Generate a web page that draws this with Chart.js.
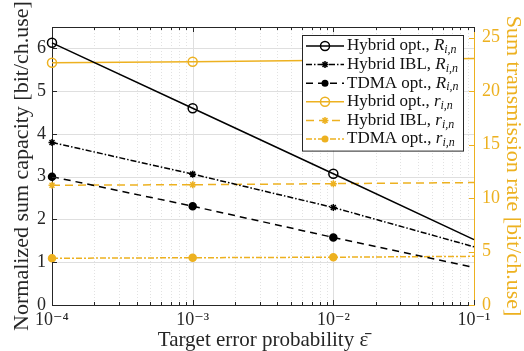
<!DOCTYPE html>
<html>
<head>
<meta charset="utf-8">
<script src="https://cdn.jsdelivr.net/npm/chart.js@4.4.0/dist/chart.umd.min.js"></script>
<style>
  html, body { margin: 0; padding: 0; background: #fff; }
  #wrap { width: 524px; height: 351px; }
</style>
</head>
<body>
<div id="wrap"><canvas id="c"></canvas></div>
<script>
// data
const errProb = [1e-4, 1e-3, 1e-2, 1e-1];
const hybridOptCap = [6.13, 4.6, 3.07, 1.53];
const hybridIblCap = [3.8, 3.06, 2.28, 1.36];
const tdmaOptCap = [3.0, 2.31, 1.58, 0.88];
const hybridOptRate = [22.65, 22.75, 22.9, 23.05];
const hybridIblRate = [11.2, 11.25, 11.35, 11.45];
const tdmaOptRate = [4.37, 4.42, 4.47, 4.55];
const capTicks = [0, 1, 2, 3, 4, 5, 6];
const rateTicks = [0, 5, 10, 15, 20, 25];

const BLACK = "#000000";
const GOLD = "#EDB120";
const AXIS = "#262626";
const FONT = "'Liberation Serif', 'DejaVu Serif', serif";

const sup = { "-": "\u207B", "0": "\u2070", "1": "\u00B9", "2": "\u00B2", "3": "\u00B3", "4": "\u2074" };
function powLabel(e) {
  return "10" + String(e).split("").map(c => sup[c]).join("");
}

// legend entries: [prefix, math symbol, colour, dash, pointStyle, filled]
const legendItems = [
  ["Hybrid opt.,", "R", BLACK, [], "circle", false],
  ["Hybrid IBL,", "R", BLACK, [6, 2, 1.5, 2], "star", false],
  ["TDMA opt.,", "R", BLACK, [7, 5], "circle", true],
  ["Hybrid opt.,", "r", GOLD, [], "circle", false],
  ["Hybrid IBL,", "r", GOLD, [8, 5], "star", false],
  ["TDMA opt.,", "r", GOLD, [6, 2, 2, 2], "circle", true]
];

function hideLast(ctx) {
  return ctx.dataIndex === errProb.length - 1 ? 0 : ctx.dataset.baseRadius;
}

function series(label, data, axis, colour, dash, style, filled, r) {
  return {
    label: label,
    data: data.map((v, k) => ({ x: errProb[k], y: v })),
    yAxisID: axis,
    borderColor: colour,
    borderWidth: 1.5,
    borderDash: dash,
    pointStyle: style,
    baseRadius: r,
    pointRadius: hideLast,
    pointBorderWidth: 1.5,
    pointBorderColor: colour,
    pointBackgroundColor: filled ? colour : "rgba(0,0,0,0)",
    tension: 0,
    clip: 8
  };
}

// grid lines and inward ticks, MATLAB style
const gridPlugin = {
  id: "gridPlugin",
  beforeDatasetsDraw(chart) {
    const { ctx, chartArea: a, scales } = chart;
    ctx.save();
    ctx.lineWidth = 1;
    for (let d = -4; d < -1; d++) {
      for (let m = 1; m < 10; m++) {
        const v = m * Math.pow(10, d);
        const x = Math.round(scales.x.getPixelForValue(v)) + 0.5;
        if (m === 1) {
          ctx.strokeStyle = "#dfdfdf";
          ctx.setLineDash([]);
        } else {
          ctx.strokeStyle = "#e2e2e2";
          ctx.setLineDash([1, 2]);
        }
        if (x <= a.left + 1) continue;
        ctx.beginPath();
        ctx.moveTo(x, a.top);
        ctx.lineTo(x, a.bottom);
        ctx.stroke();
      }
    }
    ctx.setLineDash([]);
    ctx.strokeStyle = "#dfdfdf";
    capTicks.forEach(v => {
      const y = Math.round(scales.yCap.getPixelForValue(v)) + 0.5;
      if (y >= a.bottom - 1) return;
      ctx.beginPath();
      ctx.moveTo(a.left, y);
      ctx.lineTo(a.right, y);
      ctx.stroke();
    });
    ctx.restore();
  },
  afterDatasetsDraw(chart) {
    const { ctx, chartArea: a, scales } = chart;
    ctx.save();
    ctx.lineWidth = 1;
    ctx.strokeStyle = AXIS;
    // top border
    ctx.beginPath();
    ctx.moveTo(a.left, a.top + 0.5);
    ctx.lineTo(a.right, a.top + 0.5);
    ctx.stroke();
    for (let d = -4; d <= -1; d++) {
      for (let m = 1; m < 10; m++) {
        const v = m * Math.pow(10, d);
        if (v > 0.1 + 1e-12) break;
        const x = Math.round(scales.x.getPixelForValue(v)) + 0.5;
        const len = m === 1 ? 5 : 3;
        ctx.beginPath();
        ctx.moveTo(x, a.bottom);
        ctx.lineTo(x, a.bottom - len);
        ctx.moveTo(x, a.top);
        ctx.lineTo(x, a.top + len);
        ctx.stroke();
      }
    }
    capTicks.forEach(v => {
      const y = Math.round(scales.yCap.getPixelForValue(v)) + 0.5;
      ctx.beginPath();
      ctx.moveTo(a.left, y);
      ctx.lineTo(a.left + 5, y);
      ctx.stroke();
    });
    ctx.strokeStyle = GOLD;
    rateTicks.forEach(v => {
      const y = Math.round(scales.yRate.getPixelForValue(v)) + 0.5;
      ctx.beginPath();
      ctx.moveTo(a.right, y);
      ctx.lineTo(a.right - 5, y);
      ctx.stroke();
    });
    ctx.restore();
  }
};

function drawMarker(ctx, style, filled, colour, x, y) {
  ctx.save();
  ctx.strokeStyle = colour;
  ctx.fillStyle = colour;
  ctx.lineWidth = 1.5;
  ctx.setLineDash([]);
  if (style === "circle") {
    ctx.beginPath();
    ctx.arc(x, y, filled ? 3.5 : 4.5, 0, Math.PI * 2);
    if (filled) ctx.fill(); else ctx.stroke();
  } else {
    const r = 3.5;
    ctx.beginPath();
    for (let k = 0; k < 4; k++) {
      const t = k * Math.PI / 4;
      ctx.moveTo(x - r * Math.cos(t), y - r * Math.sin(t));
      ctx.lineTo(x + r * Math.cos(t), y + r * Math.sin(t));
    }
    ctx.stroke();
  }
  ctx.restore();
}

// legend drawn by hand so the line sample carries its marker and the math is italic
const legendPlugin = {
  id: "legendPlugin",
  afterDraw(chart) {
    const { ctx, chartArea: a } = chart;
    const right = a.right - 11, top = a.top + 8, width = 161, rowH = 18.6;
    const left = right - width;
    const height = rowH * legendItems.length + 4;
    ctx.save();
    ctx.fillStyle = "#fff";
    ctx.fillRect(left, top, width, height);
    ctx.strokeStyle = AXIS;
    ctx.lineWidth = 1;
    ctx.strokeRect(left + 0.5, top + 0.5, width, height);
    legendItems.forEach((it, i) => {
      const y = top + 11 + i * rowH;
      ctx.strokeStyle = it[2];
      ctx.lineWidth = 1.5;
      ctx.setLineDash(it[3]);
      ctx.beginPath();
      ctx.moveTo(left + 4, y);
      ctx.lineTo(left + 42, y);
      ctx.stroke();
      drawMarker(ctx, it[4], it[5], it[2], left + 23, y);
      ctx.fillStyle = "#111";
      ctx.textBaseline = "middle";
      ctx.font = "17px " + FONT;
      let tx = left + 45;
      ctx.fillText(it[0] + " ", tx, y);
      tx += ctx.measureText(it[0] + " ").width;
      ctx.font = "italic 17px " + FONT;
      ctx.fillText(it[1], tx, y);
      tx += ctx.measureText(it[1]).width;
      ctx.font = "italic 12px " + FONT;
      ctx.fillText("i,n", tx, y + 4);
    });
    ctx.restore();
  }
};

new Chart(document.getElementById("c"), {
  type: "line",
  data: {
    datasets: [
      series("Hybrid opt., R", hybridOptCap, "yCap", BLACK, [], "circle", false, 4.5),
      series("Hybrid IBL, R", hybridIblCap, "yCap", BLACK, [6, 2, 1.5, 2], "star", false, 3.5),
      series("TDMA opt., R", tdmaOptCap, "yCap", BLACK, [7, 5], "circle", true, 3.5),
      series("Hybrid opt., r", hybridOptRate, "yRate", GOLD, [], "circle", false, 4.5),
      series("Hybrid IBL, r", hybridIblRate, "yRate", GOLD, [8, 5], "star", false, 3.5),
      series("TDMA opt., r", tdmaOptRate, "yRate", GOLD, [6, 2, 2, 2], "circle", true, 3.5)
    ]
  },
  options: {
    responsive: true,
    maintainAspectRatio: false,
    animation: false,
    layout: { padding: { top: 27, left: 0, right: 0, bottom: 0 } },
    plugins: { legend: { display: false }, tooltip: { enabled: false } },
    scales: {
      x: {
        type: "logarithmic",
        position: "bottom",
        min: 1e-4,
        max: 1e-1,
        afterFit: s => { s.height = 46; },
        grid: { display: false, drawTicks: false },
        border: { display: true, color: AXIS, width: 1 },
        ticks: {
          autoSkip: false,
          maxRotation: 0,
          padding: 4,
          color: AXIS,
          font: { family: FONT, size: 18 },
          callback: v => {
            const e = Math.log10(v);
            return Math.abs(e - Math.round(e)) < 1e-6 ? powLabel(Math.round(e)) : "";
          }
        },
        title: {
          display: true,
          text: "Target error probability \u03B5\u0304",
          color: AXIS,
          font: { family: FONT, size: 21, lineHeight: 1 },
          padding: { top: 0, bottom: 0 }
        }
      },
      yCap: {
        position: "left",
        min: 0,
        max: 6.5,
        afterFit: s => { s.width = 52; },
        afterBuildTicks: s => { s.ticks = capTicks.map(v => ({ value: v })); },
        grid: { display: false, drawTicks: false },
        border: { display: true, color: AXIS, width: 1 },
        ticks: { padding: 6, color: AXIS, font: { family: FONT, size: 18 } },
        title: {
          display: true,
          text: "Normalized sum capacity [bit/ch.use]",
          color: AXIS,
          font: { family: FONT, size: 22, lineHeight: 1 },
          padding: { top: 11, bottom: 0 }
        }
      },
      yRate: {
        position: "right",
        min: 0,
        max: 26,
        afterFit: s => { s.width = 50; },
        afterBuildTicks: s => { s.ticks = rateTicks.map(v => ({ value: v })); },
        grid: { display: false, drawTicks: false },
        border: { display: true, color: GOLD, width: 1 },
        ticks: { padding: 8, color: GOLD, font: { family: FONT, size: 18 } },
        title: {
          display: true,
          text: "Sum transmission rate [bit/ch.use]",
          color: GOLD,
          font: { family: FONT, size: 22, lineHeight: 1 },
          padding: { top: 0, bottom: 0 }
        }
      }
    }
  },
  plugins: [gridPlugin, legendPlugin]
});
</script>
</body>
</html>
